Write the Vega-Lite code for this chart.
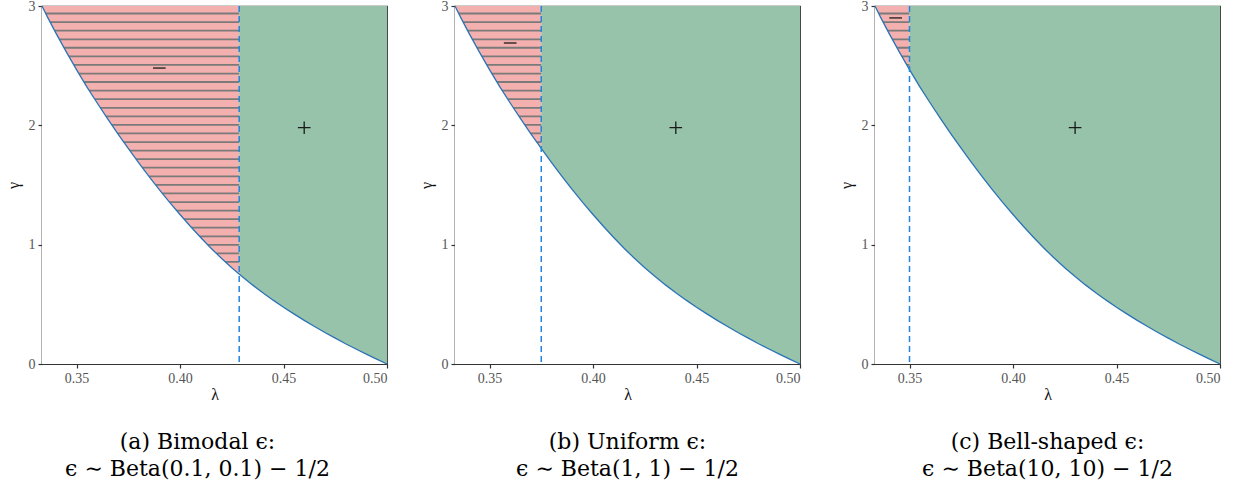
{
  "$schema": "https://vega.github.io/schema/vega-lite/v6.json",
  "description": "Sign regions of the lambda-gamma plane for three noise distributions",
  "padding": {"left": 4, "top": -2, "right": 5, "bottom": 5},
  "spacing": 33,
  "datasets": {
    "curve": [
      {"lam": 0.333333, "gam": 3.0},
      {"lam": 0.336, "gam": 2.907},
      {"lam": 0.34, "gam": 2.775},
      {"lam": 0.345, "gam": 2.618},
      {"lam": 0.35, "gam": 2.467},
      {"lam": 0.355, "gam": 2.322},
      {"lam": 0.36, "gam": 2.187},
      {"lam": 0.365, "gam": 2.056},
      {"lam": 0.37, "gam": 1.929},
      {"lam": 0.375, "gam": 1.806},
      {"lam": 0.38, "gam": 1.688},
      {"lam": 0.385, "gam": 1.573},
      {"lam": 0.39, "gam": 1.462},
      {"lam": 0.395, "gam": 1.355},
      {"lam": 0.4, "gam": 1.253},
      {"lam": 0.405, "gam": 1.154},
      {"lam": 0.41, "gam": 1.06},
      {"lam": 0.415, "gam": 0.97},
      {"lam": 0.42, "gam": 0.886},
      {"lam": 0.425, "gam": 0.807},
      {"lam": 0.43, "gam": 0.733},
      {"lam": 0.435, "gam": 0.663},
      {"lam": 0.44, "gam": 0.597},
      {"lam": 0.445, "gam": 0.535},
      {"lam": 0.45, "gam": 0.476},
      {"lam": 0.455, "gam": 0.42},
      {"lam": 0.46, "gam": 0.366},
      {"lam": 0.465, "gam": 0.314},
      {"lam": 0.47, "gam": 0.264},
      {"lam": 0.475, "gam": 0.217},
      {"lam": 0.48, "gam": 0.17},
      {"lam": 0.485, "gam": 0.126},
      {"lam": 0.49, "gam": 0.083},
      {"lam": 0.495, "gam": 0.041},
      {"lam": 0.5, "gam": 0.0}
    ],
    "hatch": [
      {"k": 0, "gam": 2.937}, {"k": 1, "gam": 2.865}, {"k": 2, "gam": 2.793},
      {"k": 3, "gam": 2.721}, {"k": 4, "gam": 2.65}, {"k": 5, "gam": 2.578},
      {"k": 6, "gam": 2.506}, {"k": 7, "gam": 2.434}, {"k": 8, "gam": 2.363},
      {"k": 9, "gam": 2.291}, {"k": 10, "gam": 2.219}, {"k": 11, "gam": 2.147},
      {"k": 12, "gam": 2.075}, {"k": 13, "gam": 2.004}, {"k": 14, "gam": 1.932},
      {"k": 15, "gam": 1.86}, {"k": 16, "gam": 1.788}, {"k": 17, "gam": 1.717},
      {"k": 18, "gam": 1.645}, {"k": 19, "gam": 1.573}, {"k": 20, "gam": 1.501},
      {"k": 21, "gam": 1.429}, {"k": 22, "gam": 1.357}, {"k": 23, "gam": 1.286},
      {"k": 24, "gam": 1.214}, {"k": 25, "gam": 1.142}, {"k": 26, "gam": 1.07},
      {"k": 27, "gam": 0.998}, {"k": 28, "gam": 0.927}, {"k": 29, "gam": 0.855}
    ]
  },
  "hconcat": [
    {
      "spacing": 26,
      "hconcat": [
        {
          "width": 345,
          "height": 358,
          "title": {"text": ["(a) Bimodal ϵ:", "ϵ ∼ Beta(0.1, 0.1) − 1/2"], "dx": -17},
          "layer": [
            {
              "data": {"values": [
                {"region": "neg", "lo": 0.333333, "hi": 0.4286},
                {"region": "pos", "lo": 0.4286, "hi": 0.5}
              ]},
              "mark": {"type": "rect"},
              "encoding": {
                "x": {"field": "lo", "type": "quantitative",
                      "scale": {"domain": [0.333333, 0.5], "nice": false, "zero": false},
                      "axis": {"title": "λ", "values": [0.35, 0.4, 0.45, 0.5], "format": ".2f"}},
                "x2": {"field": "hi"},
                "y": {"datum": 0, "type": "quantitative",
                      "scale": {"domain": [0, 3], "nice": false},
                      "axis": {"title": "γ", "values": [0, 1, 2, 3], "format": "d"}},
                "y2": {"datum": 3},
                "color": {"field": "region", "type": "nominal", "legend": null,
                          "scale": {"domain": ["neg", "pos"], "range": ["#f4b0ae", "#96c3aa"]}}
              }
            },
            {
              "data": {"name": "hatch"},
              "transform": [{"filter": "datum.k <= 29"}],
              "mark": {"type": "rule", "color": "#7a7a7a", "strokeWidth": 1.8},
              "encoding": {
                "x": {"datum": 0.333333, "type": "quantitative"},
                "x2": {"datum": 0.4286},
                "y": {"field": "gam", "type": "quantitative"}
              }
            },
            {
              "data": {"name": "curve"},
              "mark": {"type": "area", "color": "white"},
              "encoding": {
                "x": {"field": "lam", "type": "quantitative"},
                "y": {"field": "gam", "type": "quantitative"},
                "y2": {"datum": 0}
              }
            },
            {
              "data": {"name": "curve"},
              "mark": {"type": "line", "color": "#2b73b6", "strokeWidth": 1.3},
              "encoding": {
                "x": {"field": "lam", "type": "quantitative"},
                "y": {"field": "gam", "type": "quantitative"}
              }
            },
            {
              "data": {"values": [{"cut": 0.4286}]},
              "mark": {"type": "rule", "color": "#2185e0", "strokeWidth": 1.5, "strokeDash": [6, 4]},
              "encoding": {"x": {"field": "cut", "type": "quantitative"}}
            },
            {
              "data": {"values": [
                {"sign": "neg", "lam": 0.39, "gam": 2.48},
                {"sign": "pos", "lam": 0.46, "gam": 1.98}
              ]},
              "mark": {"type": "point", "filled": false, "stroke": "#1a1a1a", "strokeWidth": 1.3, "size": 160, "opacity": 1},
              "encoding": {
                "x": {"field": "lam", "type": "quantitative"},
                "y": {"field": "gam", "type": "quantitative"},
                "shape": {"field": "sign", "type": "nominal", "legend": null,
                          "scale": {"domain": ["neg", "pos"], "range": ["M-1,0L1,0", "M-1,0L1,0M0,-1L0,1"]}}
              }
            }
          ]
        },
        {
          "width": 345,
          "height": 358,
          "title": {"text": ["(b) Uniform ϵ:", "ϵ ∼ Beta(1, 1) − 1/2"]},
          "layer": [
            {
              "data": {"values": [
                {"region": "neg", "lo": 0.333333, "hi": 0.375},
                {"region": "pos", "lo": 0.375, "hi": 0.5}
              ]},
              "mark": {"type": "rect"},
              "encoding": {
                "x": {"field": "lo", "type": "quantitative",
                      "scale": {"domain": [0.333333, 0.5], "nice": false, "zero": false},
                      "axis": {"title": "λ", "values": [0.35, 0.4, 0.45, 0.5], "format": ".2f"}},
                "x2": {"field": "hi"},
                "y": {"datum": 0, "type": "quantitative",
                      "scale": {"domain": [0, 3], "nice": false},
                      "axis": {"title": "γ", "values": [0, 1, 2, 3], "format": "d"}},
                "y2": {"datum": 3},
                "color": {"field": "region", "type": "nominal", "legend": null,
                          "scale": {"domain": ["neg", "pos"], "range": ["#f4b0ae", "#96c3aa"]}}
              }
            },
            {
              "data": {"name": "hatch"},
              "transform": [{"filter": "datum.k <= 15"}],
              "mark": {"type": "rule", "color": "#7a7a7a", "strokeWidth": 1.8},
              "encoding": {
                "x": {"datum": 0.333333, "type": "quantitative"},
                "x2": {"datum": 0.375},
                "y": {"field": "gam", "type": "quantitative"}
              }
            },
            {
              "data": {"name": "curve"},
              "mark": {"type": "area", "color": "white"},
              "encoding": {
                "x": {"field": "lam", "type": "quantitative"},
                "y": {"field": "gam", "type": "quantitative"},
                "y2": {"datum": 0}
              }
            },
            {
              "data": {"name": "curve"},
              "mark": {"type": "line", "color": "#2b73b6", "strokeWidth": 1.3},
              "encoding": {
                "x": {"field": "lam", "type": "quantitative"},
                "y": {"field": "gam", "type": "quantitative"}
              }
            },
            {
              "data": {"values": [{"cut": 0.375}]},
              "mark": {"type": "rule", "color": "#2185e0", "strokeWidth": 1.5, "strokeDash": [6, 4]},
              "encoding": {"x": {"field": "cut", "type": "quantitative"}}
            },
            {
              "data": {"values": [
                {"sign": "neg", "lam": 0.36, "gam": 2.69},
                {"sign": "pos", "lam": 0.44, "gam": 1.98}
              ]},
              "mark": {"type": "point", "filled": false, "stroke": "#1a1a1a", "strokeWidth": 1.3, "size": 160, "opacity": 1},
              "encoding": {
                "x": {"field": "lam", "type": "quantitative"},
                "y": {"field": "gam", "type": "quantitative"},
                "shape": {"field": "sign", "type": "nominal", "legend": null,
                          "scale": {"domain": ["neg", "pos"], "range": ["M-1,0L1,0", "M-1,0L1,0M0,-1L0,1"]}}
              }
            }
          ]
        }
      ]
    },
    {
      "width": 345,
      "height": 358,
      "title": {"text": ["(c) Bell-shaped ϵ:", "ϵ ∼ Beta(10, 10) − 1/2"]},
      "layer": [
        {
          "data": {"values": [
            {"region": "neg", "lo": 0.333333, "hi": 0.35},
            {"region": "pos", "lo": 0.35, "hi": 0.5}
          ]},
          "mark": {"type": "rect"},
          "encoding": {
            "x": {"field": "lo", "type": "quantitative",
                  "scale": {"domain": [0.333333, 0.5], "nice": false, "zero": false},
                  "axis": {"title": "λ", "values": [0.35, 0.4, 0.45, 0.5], "format": ".2f"}},
            "x2": {"field": "hi"},
            "y": {"datum": 0, "type": "quantitative",
                  "scale": {"domain": [0, 3], "nice": false},
                  "axis": {"title": "γ", "values": [0, 1, 2, 3], "format": "d"}},
            "y2": {"datum": 3},
            "color": {"field": "region", "type": "nominal", "legend": null,
                      "scale": {"domain": ["neg", "pos"], "range": ["#f4b0ae", "#96c3aa"]}}
          }
        },
        {
          "data": {"name": "hatch"},
          "transform": [{"filter": "datum.k <= 6"}],
          "mark": {"type": "rule", "color": "#7a7a7a", "strokeWidth": 1.8},
          "encoding": {
            "x": {"datum": 0.333333, "type": "quantitative"},
            "x2": {"datum": 0.35},
            "y": {"field": "gam", "type": "quantitative"}
          }
        },
        {
          "data": {"name": "curve"},
          "mark": {"type": "area", "color": "white"},
          "encoding": {
            "x": {"field": "lam", "type": "quantitative"},
            "y": {"field": "gam", "type": "quantitative"},
            "y2": {"datum": 0}
          }
        },
        {
          "data": {"name": "curve"},
          "mark": {"type": "line", "color": "#2b73b6", "strokeWidth": 1.3},
          "encoding": {
            "x": {"field": "lam", "type": "quantitative"},
            "y": {"field": "gam", "type": "quantitative"}
          }
        },
        {
          "data": {"values": [{"cut": 0.35}]},
          "mark": {"type": "rule", "color": "#2185e0", "strokeWidth": 1.5, "strokeDash": [6, 4]},
          "encoding": {"x": {"field": "cut", "type": "quantitative"}}
        },
        {
          "data": {"values": [
            {"sign": "neg", "lam": 0.3433, "gam": 2.9},
            {"sign": "pos", "lam": 0.43, "gam": 1.98}
          ]},
          "mark": {"type": "point", "filled": false, "stroke": "#1a1a1a", "strokeWidth": 1.3, "size": 160, "opacity": 1},
          "encoding": {
            "x": {"field": "lam", "type": "quantitative"},
            "y": {"field": "gam", "type": "quantitative"},
            "shape": {"field": "sign", "type": "nominal", "legend": null,
                      "scale": {"domain": ["neg", "pos"], "range": ["M-1,0L1,0", "M-1,0L1,0M0,-1L0,1"]}}
          }
        }
      ]
    }
  ],
  "config": {
    "font": "Liberation Serif",
    "view": {"stroke": "#333333", "strokeWidth": 1.2},
    "axis": {
      "grid": false,
      "zindex": 1,
      "domainColor": "#333333",
      "domainWidth": 1.2,
      "tickColor": "#333333",
      "tickWidth": 1.2,
      "tickSize": 4,
      "labelColor": "#555555",
      "labelFont": "Liberation Serif",
      "labelFontSize": 14,
      "labelPadding": 3,
      "titleFont": "Liberation Serif",
      "titleFontSize": 16,
      "titleFontWeight": "normal",
      "titleColor": "#111111"
    },
    "axisX": {"titlePadding": 1},
    "axisY": {"titlePadding": 7},
    "title": {
      "orient": "bottom",
      "anchor": "middle",
      "frame": "group",
      "font": "DejaVu Serif",
      "fontSize": 22,
      "fontWeight": "normal",
      "color": "#000000",
      "lineHeight": 27,
      "offset": 30
    }
  }
}
